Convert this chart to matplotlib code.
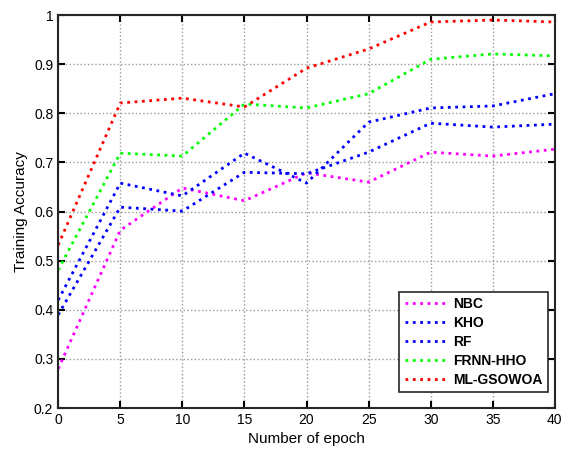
import numpy as np
import matplotlib.pyplot as plt

plt.rcParams['font.family'] = ['Liberation Sans', 'DejaVu Sans']

epoch = [0, 5, 10, 15, 20, 25, 30, 35, 40]

nbc = [0.28, 0.562, 0.648, 0.622, 0.679, 0.66, 0.721, 0.713, 0.727]
kho = [0.42, 0.658, 0.632, 0.719, 0.658, 0.782, 0.811, 0.815, 0.84]
rf = [0.39, 0.609, 0.601, 0.68, 0.677, 0.721, 0.78, 0.772, 0.778]
frnn_hho = [0.481, 0.719, 0.713, 0.819, 0.811, 0.84, 0.91, 0.921, 0.917]
ml_gsowoa = [0.532, 0.821, 0.831, 0.813, 0.892, 0.931, 0.986, 0.99, 0.986]

labels = ["NBC", "KHO", "RF", "FRNN-HHO", "ML-GSOWOA"]
colors = ["#ff00ff", "#0000ff", "#0000ff", "#00ff00", "#ff0000"]
series = [nbc, kho, rf, frnn_hho, ml_gsowoa]

fig = plt.figure(figsize=(5.65, 4.58), dpi=100)
ax = fig.add_axes([0.103, 0.109, 0.879, 0.858])

for y, lab, c in zip(series, labels, colors):
    ax.plot(epoch, y, linestyle=":", color=c, linewidth=2, label=lab)

ax.set_xlim(0, 40)
ax.set_ylim(0.2, 1.0)
ax.set_xticks(np.arange(0, 41, 5))
ax.set_yticks(np.arange(0.2, 1.01, 0.1))
ax.set_yticklabels(["0.2", "0.3", "0.4", "0.5", "0.6", "0.7", "0.8", "0.9", "1"])
ax.grid(True, linestyle=":", color="#999999", linewidth=1)
ax.tick_params(direction="in", top=True, right=True, length=5, width=1.5, labelsize=10)
for s in ax.spines.values():
    s.set_linewidth(1.5)
    s.set_color("#262626")

ax.set_xlabel("Number of epoch", fontsize=11)
ax.set_ylabel("Training Accuracy", fontsize=11)

leg = ax.legend(loc="lower right", bbox_to_anchor=(0.986, 0.04), borderaxespad=0,
                fancybox=False, framealpha=1, edgecolor="#262626",
                handlelength=3.1, handletextpad=0.35, borderpad=0.4,
                labelspacing=0.35, prop={"weight": "bold", "size": 10})
leg.get_frame().set_linewidth(1.2)

fig.savefig("out.png", dpi=100)
